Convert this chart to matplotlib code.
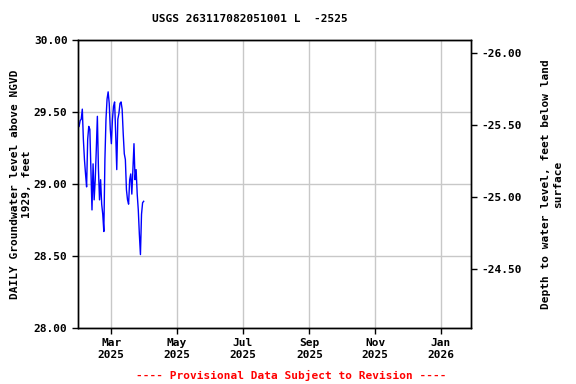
import pandas as pd
import matplotlib
matplotlib.use("Agg")
import matplotlib.pyplot as plt
import matplotlib.dates as mdates

# 日次データ (2025-01-30 ～ 2025-03-31)
start_date = "2025-01-30"
levels = [29.40, 29.44, 29.45, 29.52, 29.31, 29.17, 29.07, 28.98, 29.31, 29.40,
          29.38, 29.10, 28.82, 29.14, 28.89, 29.03, 29.24, 29.47, 29.10, 28.89,
          29.03, 28.86, 28.79, 28.67, 29.17, 29.45, 29.59, 29.64, 29.56, 29.38,
          29.28, 29.45, 29.54, 29.57, 29.35, 29.10, 29.45, 29.49, 29.56, 29.57,
          29.52, 29.35, 29.21, 29.17, 28.96, 28.89, 28.86, 29.03, 29.07, 28.93,
          29.10, 29.28, 29.03, 29.10, 28.93, 28.82, 28.65, 28.51, 28.79, 28.87,
          28.88]
land_offset = 3.91  # depth = offset - level

title_text = "USGS 263117082051001 L  -2525"
left_label = "DAILY Groundwater level above NGVD\n1929, feet"
right_label = "Depth to water level, feet below land\nsurface"
footer_text = "---- Provisional Data Subject to Revision ----"

dates = pd.date_range(start_date, periods=len(levels), freq="D")
ser = pd.Series(levels, index=dates)

font = {"family": "DejaVu Sans Mono", "weight": "bold", "size": 8}
plt.rc("font", **font)

fig = plt.figure(figsize=(5.76, 3.84), dpi=100)
ax = fig.add_axes([0.1354, 0.1458, 0.6823, 0.75])
ax.plot(ser.index, ser.values, color="blue", linewidth=1.0)

ax.set_xlim(pd.Timestamp("2025-01-29"), pd.Timestamp("2026-01-29"))
ax.set_ylim(28.0, 30.0)
ax.set_yticks([28.0, 28.5, 29.0, 29.5, 30.0])
ax.yaxis.set_major_formatter(matplotlib.ticker.FormatStrFormatter("%.2f"))
ax.xaxis.set_major_locator(mdates.MonthLocator(bymonth=[1, 3, 5, 7, 9, 11]))
ax.xaxis.set_major_formatter(mdates.DateFormatter("%b\n%Y"))
ax.grid(True, color="#c8c8c8", linewidth=1)
ax.set_axisbelow(True)
ax.set_ylabel(left_label, fontsize=8, fontweight="bold", labelpad=1.5)
ax.tick_params(direction="out", length=4, width=1)

ax2 = ax.twinx()
ax2.set_ylim(land_offset - 28.0, land_offset - 30.0)
ax2.set_yticks([-26.0, -25.5, -25.0, -24.5])
ax2.yaxis.set_major_formatter(matplotlib.ticker.FormatStrFormatter("%.2f"))
ax2.set_ylabel(right_label, fontsize=8, fontweight="bold", labelpad=14)
ax2.tick_params(direction="out", length=4, width=1)

for a in (ax, ax2):
    for sp in a.spines.values():
        sp.set_linewidth(1)

fig.text(0.434, 0.95, title_text, ha="center", va="center", fontsize=8,
         fontweight="bold")
fig.text(0.505, 0.022, footer_text, ha="center", va="center", fontsize=8,
         fontweight="bold", color="red")

fig.savefig("out.png", dpi=100)
